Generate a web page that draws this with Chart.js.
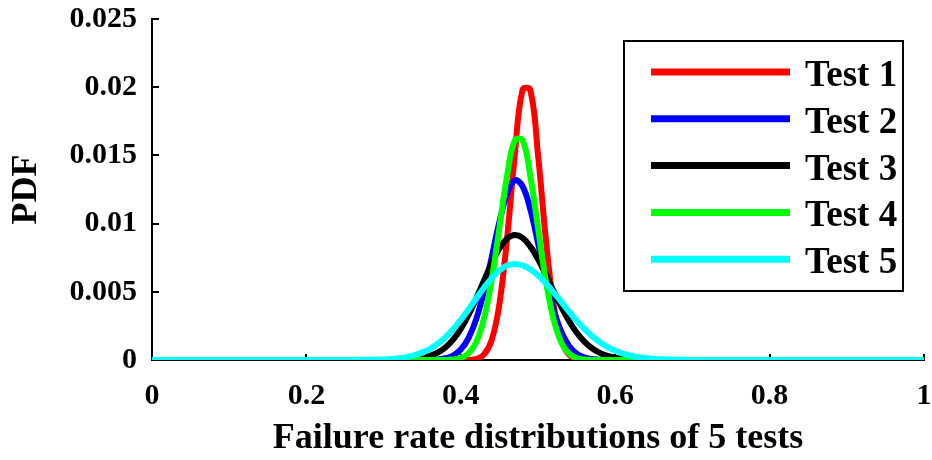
<!DOCTYPE html>
<html>
<head>
<meta charset="utf-8">
<script src="https://cdn.jsdelivr.net/npm/chart.js@4.4.1/dist/chart.umd.min.js"></script>
<style>
  html, body { margin: 0; background: #fff; }
  #wrap { width: 932px; height: 460px; }
</style>
</head>
<body>
<div id="wrap"><canvas id="pdfChart"></canvas></div>
<script>
// failure rate grid (x) and PDF values
const rates = [0, 0.1, 0.2, 0.25,
  0.30, 0.31, 0.32, 0.33, 0.34, 0.35, 0.36, 0.37, 0.38, 0.39,
  0.40, 0.41, 0.42, 0.43, 0.44, 0.45, 0.46, 0.47, 0.48, 0.49,
  0.50, 0.51, 0.52, 0.53, 0.54, 0.55, 0.56, 0.57, 0.58, 0.59,
  0.60, 0.61, 0.62, 0.63, 0.64, 0.65, 0.66, 0.67, 0.68,
  0.75, 0.8, 0.9, 1];

const test1 = [0, 0, 0, 0,
  0, 0, 0, 0, 0, 0, 0, 0, 0, 0,
  0, 0, 0.00008, 0.00039, 0.00145, 0.0041, 0.00896, 0.01507, 0.0198, 0.0198,
  0.01507, 0.00896, 0.0041, 0.00145, 0.00039, 0.00008, 0, 0, 0, 0,
  0, 0, 0, 0, 0, 0, 0, 0, 0,
  0, 0, 0, 0];

const test2 = [0, 0, 0, 0,
  0, 0, 0, 0, 0, 0, 0, 0.00004, 0.00013, 0.00033,
  0.00077, 0.00161, 0.003, 0.00502, 0.00753, 0.01012, 0.0122, 0.01317, 0.01274, 0.01105,
  0.00859, 0.00598, 0.00373, 0.00209, 0.00105, 0.00047, 0.00019, 0.00007, 0.00002, 0,
  0, 0, 0, 0, 0, 0, 0, 0, 0,
  0, 0, 0, 0];

const test3 = [0, 0, 0, 0,
  0, 0, 0.00002, 0.00004, 0.00008, 0.00015, 0.0003, 0.00054, 0.00092, 0.00149,
  0.00228, 0.0033, 0.00451, 0.00582, 0.0071, 0.00818, 0.0089, 0.00916, 0.00895, 0.00833,
  0.0074, 0.00628, 0.00507, 0.00391, 0.00288, 0.00202, 0.00135, 0.00086, 0.00052, 0.0003,
  0.00017, 0.00009, 0.00004, 0.00002, 0, 0, 0, 0, 0,
  0, 0, 0, 0];

const test4 = [0, 0, 0, 0,
  0, 0, 0, 0, 0, 0, 0, 0, 0, 0.00004,
  0.00015, 0.00048, 0.00131, 0.00302, 0.00587, 0.00969, 0.01351, 0.0161, 0.0161, 0.01351,
  0.00969, 0.00587, 0.00302, 0.00131, 0.00048, 0.00015, 0.00004, 0, 0, 0,
  0, 0, 0, 0, 0, 0, 0, 0, 0,
  0, 0, 0, 0];

const test5 = [0, 0, 0, 0,
  0.00004, 0.00007, 0.00013, 0.00021, 0.00035, 0.00054, 0.00082, 0.00119, 0.00166, 0.00225,
  0.00294, 0.00371, 0.00451, 0.0053, 0.006, 0.00656, 0.00692, 0.00704, 0.00694, 0.00666,
  0.00621, 0.00564, 0.00497, 0.00427, 0.00356, 0.00289, 0.00229, 0.00176, 0.00131, 0.00095,
  0.00067, 0.00046, 0.00031, 0.0002, 0.00013, 0.00008, 0.00005, 0.00003, 0.00001,
  0, 0, 0, 0];

const seriesNames = ['Test 1', 'Test 2', 'Test 3', 'Test 4', 'Test 5'];
const seriesColors = ['#ff0000', '#0000ff', '#000000', '#00ff00', '#00ffff'];
const xTickLabels = ['0', '0.2', '0.4', '0.6', '0.8', '1'];
const yTickLabels = ['0', '0.005', '0.01', '0.015', '0.02', '0.025'];

const FONT = '"Liberation Serif", "Times New Roman", serif';
Chart.defaults.font.family = FONT;
Chart.defaults.font.weight = 'bold';
Chart.defaults.color = '#000';

// tick marks pointing into the plot, like the original
const innerTicks = {
  id: 'innerTicks',
  beforeDatasetsDraw(chart) {
    const { ctx, scales: { x, y } } = chart;
    ctx.save();
    ctx.strokeStyle = '#000';
    ctx.lineWidth = 2;
    ctx.beginPath();
    x.ticks.forEach(t => {
      const px = Math.round(x.getPixelForValue(t.value));
      ctx.moveTo(px, y.bottom);
      ctx.lineTo(px, y.bottom - 6);
    });
    y.ticks.forEach(t => {
      const py = Math.round(y.getPixelForValue(t.value));
      ctx.moveTo(x.left, py);
      ctx.lineTo(x.left + 7, py);
    });
    ctx.stroke();
    ctx.restore();
  }
};

// boxed legend in the upper right of the plot
const boxLegend = {
  id: 'boxLegend',
  afterDatasetsDraw(chart) {
    const ctx = chart.ctx;
    const area = chart.chartArea;
    const left = area.right - 300, top = area.top + 22;
    const w = 279, h = 250;
    ctx.save();
    ctx.fillStyle = '#fff';
    ctx.fillRect(left, top, w, h);
    ctx.strokeStyle = '#000';
    ctx.lineWidth = 2;
    ctx.strokeRect(left, top, w, h);
    ctx.font = 'bold 37px ' + FONT;
    ctx.textBaseline = 'alphabetic';
    ctx.textAlign = 'left';
    chart.data.datasets.forEach((ds, i) => {
      const yy = top + 31 + i * 46.8;
      ctx.strokeStyle = ds.borderColor;
      ctx.lineWidth = 7;
      ctx.beginPath();
      ctx.moveTo(left + 27, yy);
      ctx.lineTo(left + 166, yy);
      ctx.stroke();
      ctx.fillStyle = '#000';
      ctx.fillText(ds.label, left + 181, yy + 14);
    });
    ctx.restore();
  }
};

const datasets = [test1, test2, test3, test4, test5].map((vals, i) => ({
  label: seriesNames[i],
  data: rates.map((r, j) => ({ x: r, y: vals[j] })),
  borderColor: seriesColors[i],
  backgroundColor: seriesColors[i],
  borderWidth: 6,
  pointRadius: 0,
  tension: 0.4,
  fill: false,
  order: 5 - i
}));

const ctx = document.getElementById('pdfChart').getContext('2d');
new Chart(ctx, {
  type: 'line',
  data: { datasets },
  options: {
    responsive: true,
    maintainAspectRatio: false,
    animation: false,
    layout: { padding: { top: 19, right: 8, left: 0, bottom: 0 } },
    plugins: { legend: { display: false }, tooltip: { enabled: false } },
    scales: {
      x: {
        type: 'linear',
        min: 0,
        max: 1,
        afterFit(scale) {
          scale.height = 100;
          scale.paddingLeft = 0;
          scale.paddingRight = 0;
        },
        grid: { display: false, drawTicks: false },
        border: { display: true, color: '#000', width: 2 },
        ticks: {
          stepSize: 0.2,
          padding: 18,
          maxRotation: 0,
          font: { size: 30, weight: 'bold' },
          callback: (v, i) => xTickLabels[i]
        },
        title: {
          display: true,
          text: 'Failure rate distributions of 5 tests',
          font: { size: 36, weight: 'bold' },
          padding: { top: 0, bottom: 0 }
        }
      },
      y: {
        min: 0,
        max: 0.025,
        afterFit(scale) {
          scale.width = 152;
          scale.paddingTop = 0;
          scale.paddingBottom = 0;
        },
        grid: { display: false, drawTicks: false },
        border: { display: true, color: '#000', width: 2 },
        ticks: {
          stepSize: 0.005,
          padding: 15,
          font: { size: 30, weight: 'bold' },
          callback: (v, i) => yTickLabels[i]
        },
        title: {
          display: true,
          text: 'PDF',
          font: { size: 36, weight: 'bold' },
          padding: { top: 5, bottom: 0 }
        }
      }
    }
  },
  plugins: [innerTicks, boxLegend]
});
</script>
</body>
</html>
